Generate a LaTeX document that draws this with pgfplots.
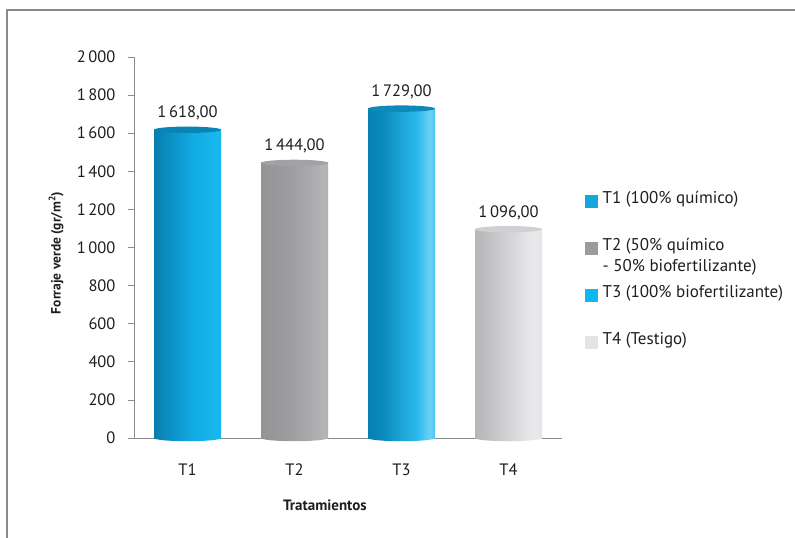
\documentclass[border=0pt]{standalone}
\usepackage{pgfplots}
\pgfplotsset{compat=1.18}
\usepackage{fontspec}
\setmainfont{PT Sans}
\definecolor{txt}{HTML}{1E1E1E}
\definecolor{axgray}{HTML}{8A8A8A}
% bar shadings (vertical stripes)
\pgfdeclarehorizontalshading{sA}{100bp}{color(0bp)=(rgb,255:red,6;green,104;blue,150); color(25bp)=(rgb,255:red,9;green,126;blue,174); color(55bp)=(rgb,255:red,16;green,172;blue,228); color(72bp)=(rgb,255:red,24;green,184;blue,238); color(100bp)=(rgb,255:red,12;green,156;blue,210)}
\pgfdeclarehorizontalshading{sB}{100bp}{color(0bp)=(rgb,255:red,138;green,139;blue,142); color(45bp)=(rgb,255:red,156;green,156;blue,158); color(72bp)=(rgb,255:red,180;green,180;blue,182); color(100bp)=(rgb,255:red,160;green,160;blue,162)}
\pgfdeclarehorizontalshading{sC}{100bp}{color(0bp)=(rgb,255:red,6;green,110;blue,156); color(35bp)=(rgb,255:red,9;green,136;blue,186); color(62bp)=(rgb,255:red,46;green,186;blue,236); color(71bp)=(rgb,255:red,106;green,210;blue,246); color(82bp)=(rgb,255:red,28;green,174;blue,228); color(100bp)=(rgb,255:red,12;green,152;blue,204)}
\pgfdeclarehorizontalshading{sD}{100bp}{color(0bp)=(rgb,255:red,156;green,156;blue,158); color(35bp)=(rgb,255:red,192;green,192;blue,194); color(68bp)=(rgb,255:red,234;green,234;blue,236); color(100bp)=(rgb,255:red,210;green,210;blue,212)}
\definecolor{capA}{HTML}{0A84B4}
\definecolor{capB}{HTML}{A2A2A4}
\definecolor{capC}{HTML}{0D8AB8}
\definecolor{capD}{HTML}{D0D0D2}
\definecolor{legA}{HTML}{16A6DE}
\definecolor{legB}{HTML}{9B9B9E}
\definecolor{legC}{HTML}{10B8EE}
\definecolor{legD}{HTML}{E4E4E6}
\pgfdeclareplotmark{cap}{\pgfpathellipse{\pgfpointorigin}{\pgfpoint{33.5bp}{0pt}}{\pgfpoint{0pt}{3.2bp}}\pgfusepath{fill}}
\pgfdeclareplotmark{botA}{\pgfpathellipse{\pgfpointorigin}{\pgfpoint{33.5bp}{0pt}}{\pgfpoint{0pt}{3.2bp}}\pgfshadepath{sA}{0}\pgfusepath{discard}}
\pgfdeclareplotmark{botB}{\pgfpathellipse{\pgfpointorigin}{\pgfpoint{33.5bp}{0pt}}{\pgfpoint{0pt}{3.2bp}}\pgfshadepath{sB}{0}\pgfusepath{discard}}
\pgfdeclareplotmark{botC}{\pgfpathellipse{\pgfpointorigin}{\pgfpoint{33.5bp}{0pt}}{\pgfpoint{0pt}{3.2bp}}\pgfshadepath{sC}{0}\pgfusepath{discard}}
\pgfdeclareplotmark{botD}{\pgfpathellipse{\pgfpointorigin}{\pgfpoint{33.5bp}{0pt}}{\pgfpoint{0pt}{3.2bp}}\pgfshadepath{sD}{0}\pgfusepath{discard}}
\pgfplotsset{
  barst/.style={ybar, bar width=67bp, bar shift=0pt, draw=none, shade, shading=#1, forget plot},
  capst/.style={forget plot, only marks, mark=cap, mark options={fill=#1, draw=none},
    nodes near coords={\pgfmathprintnumber[fixed,fixed zerofill,precision=2,use comma,1000 sep={\,},assume math mode=true]{\pgfplotspointmeta}},
    every node near coord/.append style={font=\fontsize{16.5bp}{19bp}\selectfont, text=txt, anchor=south, yshift=6bp}},
  botst/.style={forget plot, only marks, mark=#1},
  legsq/.style={legend image code/.code={\fill[#1] (0bp,3bp) rectangle (12bp,15bp);}},
}
\begin{document}
\begin{tikzpicture}
\path[use as bounding box] (0bp,0bp) rectangle (795bp,-538bp);
\draw[color=axgray, line width=1.3bp] (7bp,-538bp) -- (7bp,-10bp) -- (795bp,-10bp);
\begin{axis}[
  at={(134bp,-438bp)}, anchor=south west,
  width=428bp, height=381bp, scale only axis,
  clip=false,
  xmin=-0.5, xmax=3.5, ymin=0, ymax=2000,
  axis lines*=left,
  axis line style={color=axgray, line width=1bp, -},
  xtick={0,1,2,3}, xticklabels={T1,T2,T3,T4},
  xtick style={draw=none},
  ytick={0,200,...,2000},
  ytick style={color=axgray, line width=0.8bp},
  tick align=outside, major tick length=6bp,
  /pgf/number format/assume math mode=true,
  /pgf/number format/1000 sep={\,},
  tick label style={font=\fontsize{16.5bp}{19bp}\selectfont, text=txt},
  xticklabel style={yshift=-16bp},
  yticklabel style={xshift=-9bp},
  xlabel={Tratamientos},
  ylabel={Forraje verde (gr/m\textsuperscript{2})},
  xlabel style={at={(axis description cs:0.446,-0.176)}, anchor=center, font=\bfseries\fontsize{15bp}{17bp}\selectfont, text=txt},
  ylabel style={at={(axis description cs:-0.182,0.486)}, anchor=center, font=\bfseries\fontsize{13.5bp}{16bp}\selectfont, text=txt},
  legend cell align=left,
  legend style={at={(axis description cs:1.054,0.648)}, anchor=north west, draw=none, fill=none, inner sep=0pt,
    column sep=5bp, row sep=9bp,
    nodes={inner sep=0pt, text height=12bp, text depth=26bp, font=\fontsize{17bp}{21bp}\selectfont, text=txt}},
]
\addplot[botst=botA] coordinates {(0,0)};
\addplot[botst=botB] coordinates {(1,0)};
\addplot[botst=botC] coordinates {(2,0)};
\addplot[botst=botD] coordinates {(3,0)};
\addplot[barst=sA] coordinates {(0,1618)};
\addplot[barst=sB] coordinates {(1,1444)};
\addplot[barst=sC] coordinates {(2,1729)};
\addplot[barst=sD] coordinates {(3,1096)};
\addplot[capst=capA] coordinates {(0,1618)};
\addplot[capst=capB] coordinates {(1,1444)};
\addplot[capst=capC] coordinates {(2,1729)};
\addplot[capst=capD] coordinates {(3,1096)};
\addlegendimage{legsq=legA}
\addlegendentry{T1 (100\% químico)}
\addlegendimage{legsq=legB}
\addlegendentry{\vtop{\hbox{T2 (50\% químico}\hbox{- 50\% biofertilizante)}}}
\addlegendimage{legsq=legC}
\addlegendentry{T3 (100\% biofertilizante)}
\addlegendimage{legsq=legD}
\addlegendentry{T4 (Testigo)}
\end{axis}
\end{tikzpicture}
\end{document}
